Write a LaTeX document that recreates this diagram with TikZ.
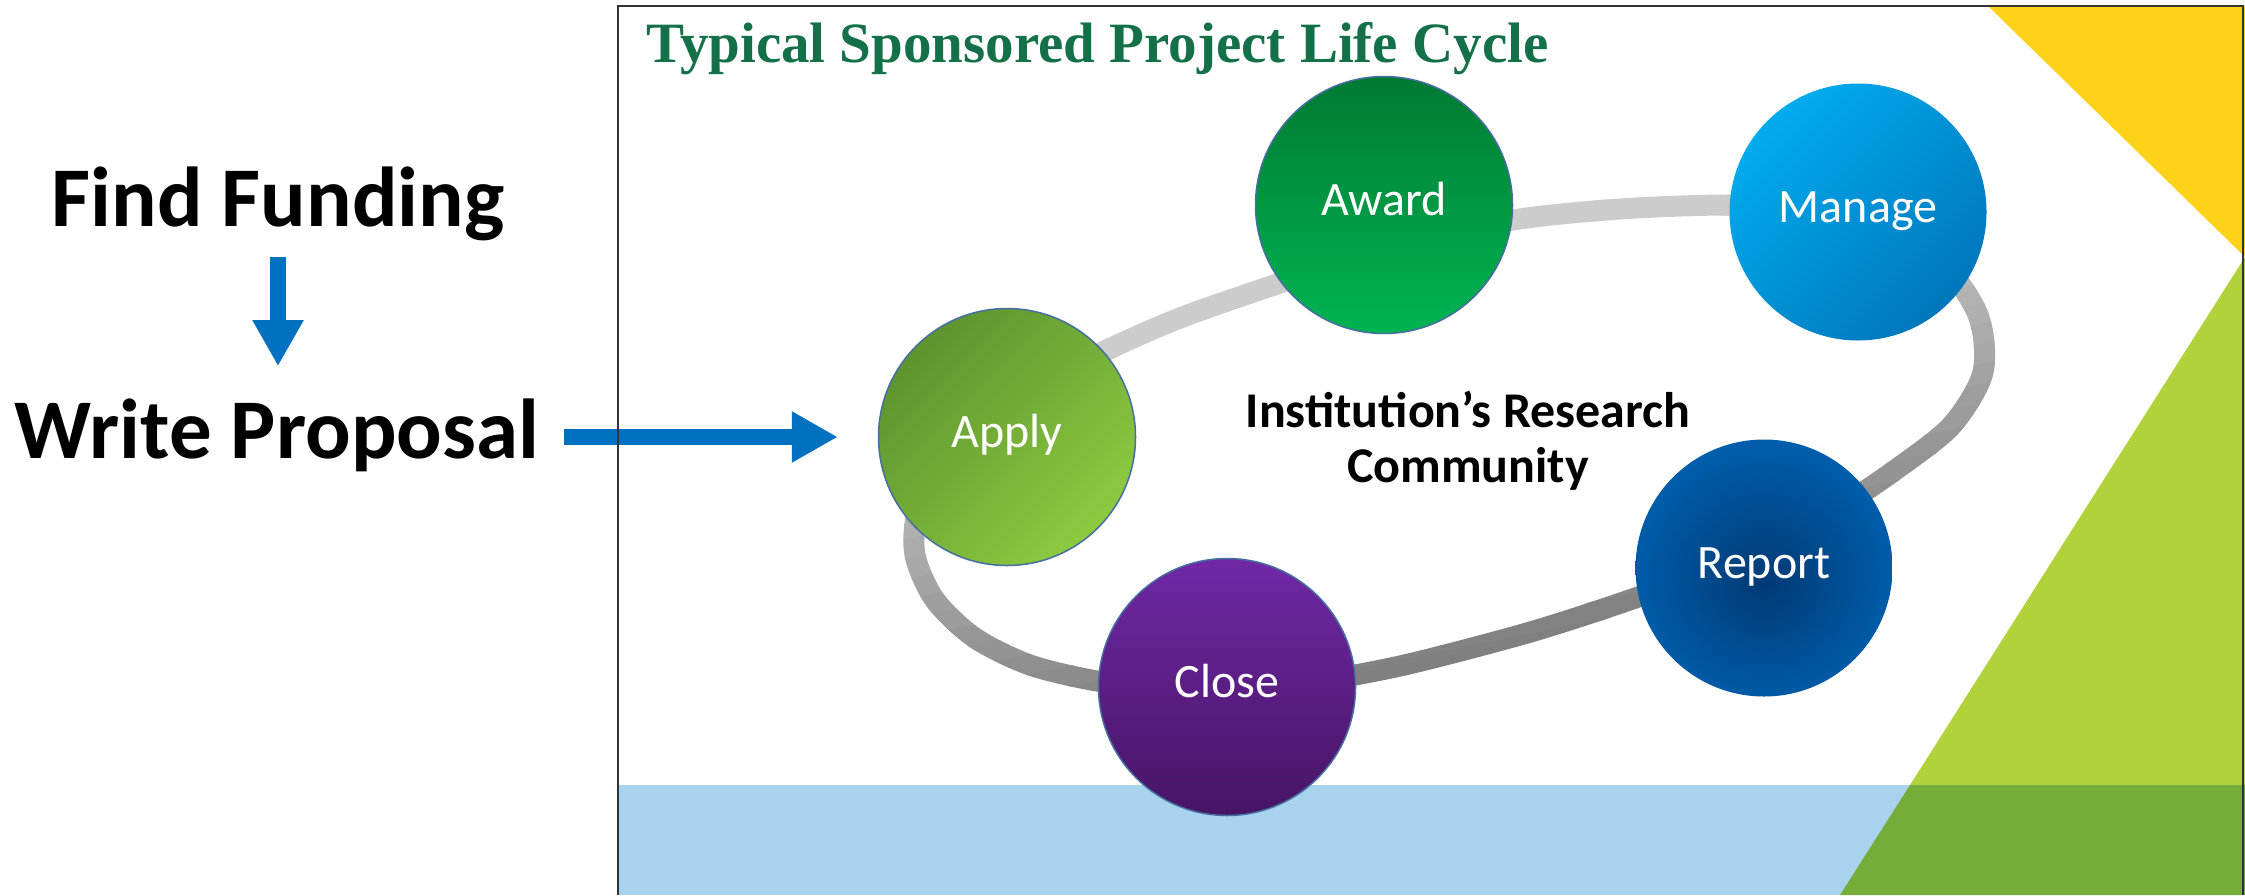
\documentclass[tikz,border=0pt]{standalone}
\usepackage{fontspec}
\newfontfamily\calibri{Carlito}
\newfontfamily\timesfont{Liberation Serif}
\usetikzlibrary{arrows.meta}
\definecolor{titlegreen}{RGB}{20,112,72}
\definecolor{bandblue}{RGB}{168,211,236}
\definecolor{lgreen}{RGB}{178,210,60}
\definecolor{dgreen}{RGB}{118,173,58}
\definecolor{slideyellow}{RGB}{255,210,26}
\definecolor{arrowblue}{RGB}{0,112,192}
\definecolor{edgeblue}{RGB}{70,110,160}
\definecolor{awdTop}{RGB}{0,122,51}
\definecolor{awdBot}{RGB}{0,180,82}
\definecolor{mngTop}{RGB}{0,172,238}
\definecolor{mngBot}{RGB}{0,118,188}
\definecolor{appTop}{RGB}{93,148,47}
\definecolor{appBot}{RGB}{141,202,64}
\definecolor{repIn}{RGB}{0,58,118}
\definecolor{repOut}{RGB}{0,99,178}
\definecolor{cloTop}{RGB}{112,40,165}
\definecolor{cloBot}{RGB}{70,20,100}
\pgfdeclareradialshading{reportball}{\pgfpoint{0bp}{-3bp}}{color(0bp)=(repIn); color(8bp)=(repIn!75!repOut); color(30bp)=(repOut); color(50bp)=(repOut)}
\tikzset{
  stage/.style={circle, minimum size=257pt, inner sep=0pt, text=white,
    font=\calibri\fontsize{48pt}{52pt}\selectfont, text height=21pt, text depth=0pt},
  rimmed/.style={draw=edgeblue, line width=1.5pt},
  ringline/.style={line width=21pt, line join=round},
  bluearrow/.style={draw=arrowblue, line width=16pt, -{Triangle[width=48pt,length=46pt]}, arrowblue},
  bigtext/.style={inner sep=0pt, font=\calibri\bfseries\fontsize{85pt}{90pt}\selectfont},
  framestyle/.style={draw=black!80, line width=2.5pt}
}
\begin{document}
\begin{tikzpicture}[x=1pt,y=-1pt]
\useasboundingbox (0,0) rectangle (2245,895);
% slide background pieces
\fill[bandblue] (618,785) rectangle (2245,895);
\fill[slideyellow] (1988,6) -- (2245,6) -- (2245,257) -- cycle;
\fill[lgreen] (2245,257) -- (2245,785) -- (1910,785) -- cycle;
\fill[dgreen] (1910,785) -- (2245,785) -- (2245,895) -- (1840,895) -- cycle;
% title
\node[anchor=base west, inner sep=0pt, text=titlegreen,
  font=\timesfont\bfseries\fontsize{57pt}{60pt}\selectfont] (title) at (646,62)
  {Typical Sponsored Project Life Cycle};
% grey ring with a diagonal gradient
\foreach \k in {0,...,24}{
  \pgfmathsetmacro\slo{\k==0 ? -1000 : 500+20*\k}
  \pgfmathsetmacro\shi{\k==24 ? 3000 : 521+20*\k}
  \pgfmathsetmacro\gv{max(118,min(202,202-0.2*(510+20*\k-570)))}
  \pgfmathtruncatemacro\pk{100*(1-\gv/255)}
  \begin{scope}
    \clip (800,\slo-160) -- (2100,\slo-420) -- (2100,\shi-420) -- (800,\shi-160) -- cycle;
    \draw[ringline, black!\pk] plot[smooth cycle, tension=0.5] coordinates {
      (915,555) (918,510) (945,465) (990,425) (1045,385) (1103,352) (1180,318)
      (1280,283) (1394,245) (1513,220) (1620,209) (1729,205) (1800,210) (1870,228)
      (1940,262) (1978,315) (1983,372) (1952,425) (1898,468) (1838,508) (1760,550)
      (1680,582) (1600,610) (1520,635) (1400,666) (1300,684) (1227,689) (1160,687)
      (1097,681) (1030,665) (975,638) (935,600)};
  \end{scope}
}
% stages
\node[stage, rimmed, top color=awdTop, bottom color=awdBot] (award) at (1384,205) {Award};
\node[stage, top color=mngTop, bottom color=mngBot, shading angle=45] (manage) at (1858,212) {Manage};
\node[stage, rimmed, top color=appTop, bottom color=appBot, shading angle=45] (apply) at (1007,437) {Apply};
\node[stage, shade, shading=reportball] (report) at (1764,568) {Report};
\node[stage, rimmed, top color=cloTop, bottom color=cloBot] (close) at (1227,687) {Close};
% centre label
\node[align=center, inner sep=0pt, font=\calibri\bfseries\fontsize{50pt}{55pt}\selectfont] (community) at (1468,441)
  {Institution’s Research\\Community};
% left side
\node[bigtext, anchor=base] (ff) at (278,226) {Find Funding};
\node[bigtext, anchor=base] (wp) at (277,458) {Write Proposal};
\draw[bluearrow, shorten <=16pt, shorten >=32pt] (ff.south) -- (ff.south |- wp.north);
\draw[bluearrow, shorten <=25pt, shorten >=40pt] (wp.east |- apply.west) -- (apply.west);
% slide frame
\draw[framestyle] (618,895) -- (618,6) -- (2243,6) -- (2243,895);
\end{tikzpicture}
\end{document}
